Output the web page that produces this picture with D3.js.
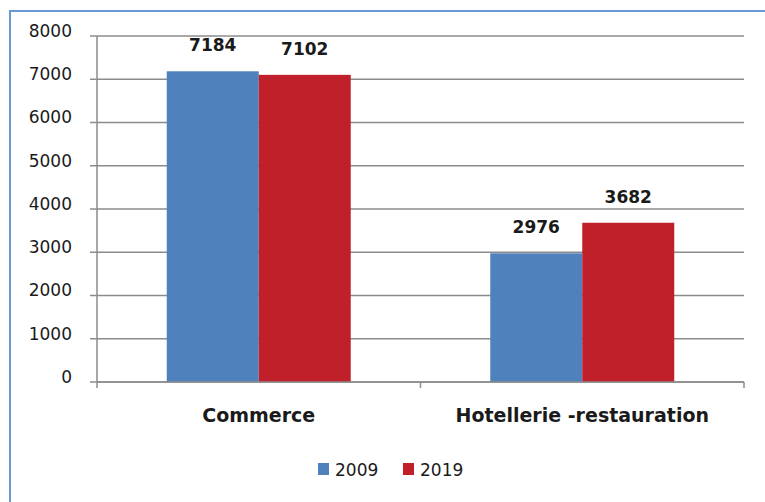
<!DOCTYPE html>
<html>
<head>
<meta charset="utf-8" />
<script src="https://d3js.org/d3.v7.min.js"></script>
<style>
  body { margin: 0; background: #fff; }
  text { font-family: "DejaVu Sans", sans-serif; fill: #1a1a1a; }
  .tick-label { font-size: 17px; }
  .cat-label { font-size: 19px; font-weight: bold; }
  .val-label { font-size: 17px; font-weight: bold; }
  .legend text { font-size: 17px; }
</style>
</head>
<body>
<script>
// data
var categories = ["Commerce", "Hotellerie -restauration"];
var years = ["2009", "2019"];
var values2009 = [7184, 2976];
var values2019 = [7102, 3682];
var yTicks = [0, 1000, 2000, 3000, 4000, 5000, 6000, 7000, 8000];
var colors = ["#4f81bd", "#c0202a"];

var width = 765, height = 502;
var margin = {top: 36, right: 21, bottom: 120, left: 97};
var w = width - margin.left - margin.right,
    h = height - margin.top - margin.bottom;

var svg = d3.select("body").append("svg")
    .attr("width", width)
    .attr("height", height);

// outer frame (only top and left edges are in view)
svg.append("path")
    .attr("d", "M10," + height + "V11H" + width)
    .attr("fill", "none")
    .attr("stroke", "#6a98d4")
    .attr("stroke-width", 2);

var g = svg.append("g")
    .attr("transform", "translate(" + margin.left + "," + margin.top + ")");

var x0 = d3.scaleBand().domain(categories).range([0, w]);
var x1 = d3.scaleBand().domain(years).range([0, 184]);
var y = d3.scaleLinear().domain([0, 8000]).range([h, 0]);

// gridlines
g.selectAll(".grid")
  .data(yTicks)
  .enter().append("line")
    .attr("x1", -7)
    .attr("x2", w)
    .attr("y1", function(d) { return y(d); })
    .attr("y2", function(d) { return y(d); })
    .attr("stroke", "#8c8c8c")
    .attr("stroke-width", 1.5);

// y tick labels
g.selectAll(".tick-label")
  .data(yTicks)
  .enter().append("text")
    .attr("class", "tick-label")
    .attr("x", -25)
    .attr("y", function(d) { return y(d); })
    .attr("dy", "0.05em")
    .attr("text-anchor", "end")
    .text(function(d) { return d; });

var series = [values2009, values2019];

var group = g.selectAll(".group")
  .data(categories)
  .enter().append("g")
    .attr("transform", function(d) { return "translate(" + (x0(d) + x0.bandwidth() / 2 - 92) + ",0)"; });

group.selectAll("rect")
  .data(function(d, i) { return years.map(function(yr, j) { return {year: yr, v: series[j][i], j: j}; }); })
  .enter().append("rect")
    .attr("x", function(d) { return x1(d.year); })
    .attr("width", x1.bandwidth())
    .attr("y", function(d) { return y(d.v); })
    .attr("height", function(d) { return h - y(d.v); })
    .attr("fill", function(d) { return colors[d.j]; });

group.selectAll(".val-label")
  .data(function(d, i) { return years.map(function(yr, j) { return {year: yr, v: series[j][i]}; }); })
  .enter().append("text")
    .attr("class", "val-label")
    .attr("x", function(d) { return x1(d.year) + x1.bandwidth() / 2; })
    .attr("y", function(d) { return y(d.v) - 20; })
    .attr("text-anchor", "middle")
    .text(function(d) { return d.v; });

// axes lines
g.append("line")
    .attr("x1", 0).attr("x2", 0)
    .attr("y1", 0).attr("y2", h + 6)
    .attr("stroke", "#8c8c8c").attr("stroke-width", 1.5);
g.append("line")
    .attr("x1", 0).attr("x2", w)
    .attr("y1", h).attr("y2", h)
    .attr("stroke", "#8c8c8c").attr("stroke-width", 1.5);
g.selectAll(".xtick")
  .data(categories)
  .enter().append("line")
    .attr("x1", function(d) { return x0(d) + x0.bandwidth(); })
    .attr("x2", function(d) { return x0(d) + x0.bandwidth(); })
    .attr("y1", h).attr("y2", h + 6)
    .attr("stroke", "#8c8c8c").attr("stroke-width", 1.5);

g.selectAll(".cat-label")
  .data(categories)
  .enter().append("text")
    .attr("class", "cat-label")
    .attr("x", function(d) { return x0(d) + x0.bandwidth() / 2; })
    .attr("y", h + 40)
    .attr("text-anchor", "middle")
    .text(function(d) { return d; });

// legend
var legend = svg.append("g").attr("class", "legend")
    .attr("transform", "translate(318,463)");
var item = legend.selectAll("g")
  .data(years)
  .enter().append("g")
    .attr("transform", function(d, i) { return "translate(" + (i * 85) + ",0)"; });
item.append("rect")
    .attr("width", 11).attr("height", 12)
    .attr("fill", function(d, i) { return colors[i]; });
item.append("text")
    .attr("x", 17).attr("y", 13)
    .text(function(d) { return d; });
</script>
</body>
</html>
